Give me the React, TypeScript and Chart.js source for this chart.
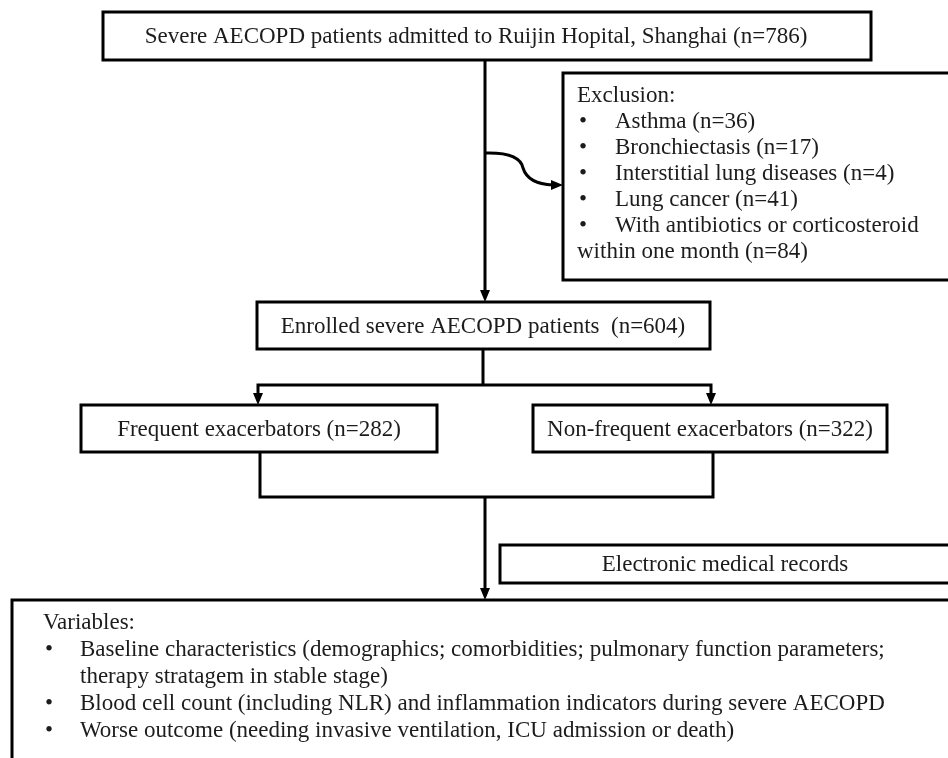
import { useEffect, useRef } from "react";
import { Chart, registerables } from "chart.js";
Chart.register(...registerables);

// ---- Data (texts and counts of the flow) ----
const admittedLabel = "Severe AECOPD patients admitted to Ruijin Hopital, Shanghai";
const admittedCount = 786;
const exclusionTitle = "Exclusion:";
const exclusionLabels = ["Asthma", "Bronchiectasis", "Interstitial lung diseases", "Lung cancer", "With antibiotics or corticosteroid"];
const exclusionTail = "within one month";
const exclusionCounts = [36, 17, 4, 41, 84];
const enrolledLabel = "Enrolled severe AECOPD patients ";
const enrolledCount = 604;
const groupLabels = ["Frequent exacerbators", "Non-frequent exacerbators"];
const groupCounts = [282, 322];
const recordSource = "Electronic medical records";
const variablesTitle = "Variables:";
const variableLines = [
  { bullet: true, text: "Baseline characteristics (demographics; comorbidities; pulmonary function parameters;" },
  { bullet: false, text: "therapy stratagem in stable stage)" },
  { bullet: true, text: "Blood cell count (including NLR) and inflammation indicators during severe AECOPD" },
  { bullet: true, text: "Worse outcome (needing invasive ventilation, ICU admission or death)" },
];

// ---- Layout (in diagram units = pixels of the 948x758 frame) ----
const W = 948;
const H = 758;
const BOXES = {
  top: { x0: 103, y0: 12, x1: 871, y1: 60 },
  excl: { x0: 563, y0: 73, x1: 970, y1: 280 },
  enrolled: { x0: 257, y0: 302, x1: 710, y1: 349 },
  freq: { x0: 81, y0: 405, x1: 437, y1: 452 },
  nonfreq: { x0: 533, y0: 405, x1: 887, y1: 452 },
  records: { x0: 500, y0: 545, x1: 970, y1: 583 },
  vars: { x0: 12, y0: 600, x1: 970, y1: 800 },
};
const CONNECTORS = [
  [{ x: 485, y: 60 }, { x: 485, y: 292 }],
  [{ x: 483, y: 349 }, { x: 483, y: 385 }],
  [{ x: 258, y: 395 }, { x: 258, y: 385 }, { x: 711, y: 385 }, { x: 711, y: 395 }],
  [{ x: 260, y: 452 }, { x: 260, y: 497 }, { x: 713, y: 497 }, { x: 713, y: 452 }],
  [{ x: 485, y: 497 }, { x: 485, y: 590 }],
];
const ARROW_TIPS = [
  { x: 485, y: 302, dir: "down" },
  { x: 258, y: 405, dir: "down" },
  { x: 711, y: 405, dir: "down" },
  { x: 485, y: 600, dir: "down" },
  { x: 563, y: 185, dir: "right" },
];
const CURVE = { start: { x: 485, y: 153 }, c1: { x: 520, y: 152 }, mid: { x: 523, y: 168 }, c2: { x: 528, y: 184 }, end: { x: 553, y: 185 } };

const FONT = "23px 'Liberation Serif', 'Times New Roman', serif";
const INK = "#1c1c1c";

const flowPlugin = {
  id: "flow",
  afterDatasetsDraw(chart: any) {
    const ctx = chart.ctx as CanvasRenderingContext2D;
    const xs = chart.scales.x;
    const ys = chart.scales.y;
    const px = (v: number) => xs.getPixelForValue(v);
    const py = (v: number) => ys.getPixelForValue(v);
    ctx.save();
    // curve
    ctx.strokeStyle = "#000";
    ctx.lineWidth = 3;
    ctx.beginPath();
    ctx.moveTo(px(CURVE.start.x), py(CURVE.start.y));
    ctx.quadraticCurveTo(px(CURVE.c1.x), py(CURVE.c1.y), px(CURVE.mid.x), py(CURVE.mid.y));
    ctx.quadraticCurveTo(px(CURVE.c2.x), py(CURVE.c2.y), px(CURVE.end.x), py(CURVE.end.y));
    ctx.stroke();
    // boxes
    Object.values(BOXES).forEach((b) => {
      const x0 = px(b.x0), y0 = py(b.y0), x1 = px(b.x1), y1 = py(b.y1);
      ctx.fillStyle = "#fff";
      ctx.fillRect(x0, y0, x1 - x0, y1 - y0);
      ctx.lineWidth = 3;
      ctx.strokeStyle = "#000";
      ctx.strokeRect(x0, y0, x1 - x0, y1 - y0);
    });
    // arrowheads
    ctx.fillStyle = "#000";
    ARROW_TIPS.forEach((a) => {
      const x = px(a.x), y = py(a.y);
      ctx.beginPath();
      if (a.dir === "down") {
        ctx.moveTo(x, y);
        ctx.lineTo(x - 5, y - 12);
        ctx.lineTo(x + 5, y - 12);
      } else {
        ctx.moveTo(x, y);
        ctx.lineTo(x - 12, y - 5);
        ctx.lineTo(x - 12, y + 5);
      }
      ctx.closePath();
      ctx.fill();
    });
    // texts
    ctx.fillStyle = INK;
    ctx.font = FONT;
    ctx.textBaseline = "middle";
    const center = (b: any, t: string) => {
      ctx.textAlign = "center";
      ctx.fillText(t, px((b.x0 + b.x1) / 2), py((b.y0 + b.y1) / 2) + 1);
    };
    const tb = BOXES.top;
    ctx.textAlign = "center";
    ctx.fillText(`${admittedLabel} (n=${admittedCount})`, px(476), py((tb.y0 + tb.y1) / 2) + 1);
    const eb = BOXES.enrolled;
    ctx.fillText(`${enrolledLabel} (n=${enrolledCount})`, px(483), py((eb.y0 + eb.y1) / 2) + 1);
    center(BOXES.freq, `${groupLabels[0]} (n=${groupCounts[0]})`);
    center(BOXES.nonfreq, `${groupLabels[1]} (n=${groupCounts[1]})`);
    ctx.textAlign = "center";
    ctx.fillText(recordSource, px(725), py((BOXES.records.y0 + BOXES.records.y1) / 2) + 1);
    // exclusion list
    ctx.textAlign = "left";
    const lh = 26;
    let y = 96;
    ctx.fillText(exclusionTitle, px(577), py(y));
    exclusionLabels.forEach((lab, i) => {
      y += lh;
      ctx.fillText("•", px(579), py(y));
      const last = i === exclusionLabels.length - 1;
      ctx.fillText(last ? lab : `${lab} (n=${exclusionCounts[i]})`, px(615), py(y));
    });
    y += lh;
    ctx.fillText(`${exclusionTail} (n=${exclusionCounts[exclusionCounts.length - 1]})`, px(577), py(y));
    // variables
    let vy = 623;
    ctx.fillText(variablesTitle, px(43), py(vy));
    const vlh = [27, 27, 27, 27];
    variableLines.forEach((l, i) => {
      vy += vlh[i];
      if (l.bullet) ctx.fillText("•", px(45), py(vy));
      ctx.fillText(l.text, px(80), py(vy));
    });
    ctx.restore();
  },
};

export default function App() {
  const ref = useRef<HTMLCanvasElement | null>(null);
  useEffect(() => {
    if (!ref.current) return;
    const chart = new Chart(ref.current, {
      type: "scatter",
      data: {
        datasets: CONNECTORS.map((pts) => ({
          data: pts,
          showLine: true,
          borderColor: "#000",
          borderWidth: 3,
          pointRadius: 0,
          tension: 0,
          fill: false,
          clip: false as any,
        })),
      },
      options: {
        animation: false,
        responsive: false,
        maintainAspectRatio: false,
        layout: { padding: 0 },
        events: [],
        plugins: { legend: { display: false }, tooltip: { enabled: false } },
        scales: {
          x: { type: "linear", min: 0, max: W, display: false },
          y: { type: "linear", min: 0, max: H, reverse: true, display: false },
        },
      },
      plugins: [flowPlugin],
    });
    return () => chart.destroy();
  }, []);
  return (
    <div style={{ position: "fixed", left: 0, top: 0, width: W, height: H, background: "#fff" }}>
      <canvas ref={ref} width={W} height={H} style={{ width: W, height: H, display: "block" }} />
    </div>
  );
}
